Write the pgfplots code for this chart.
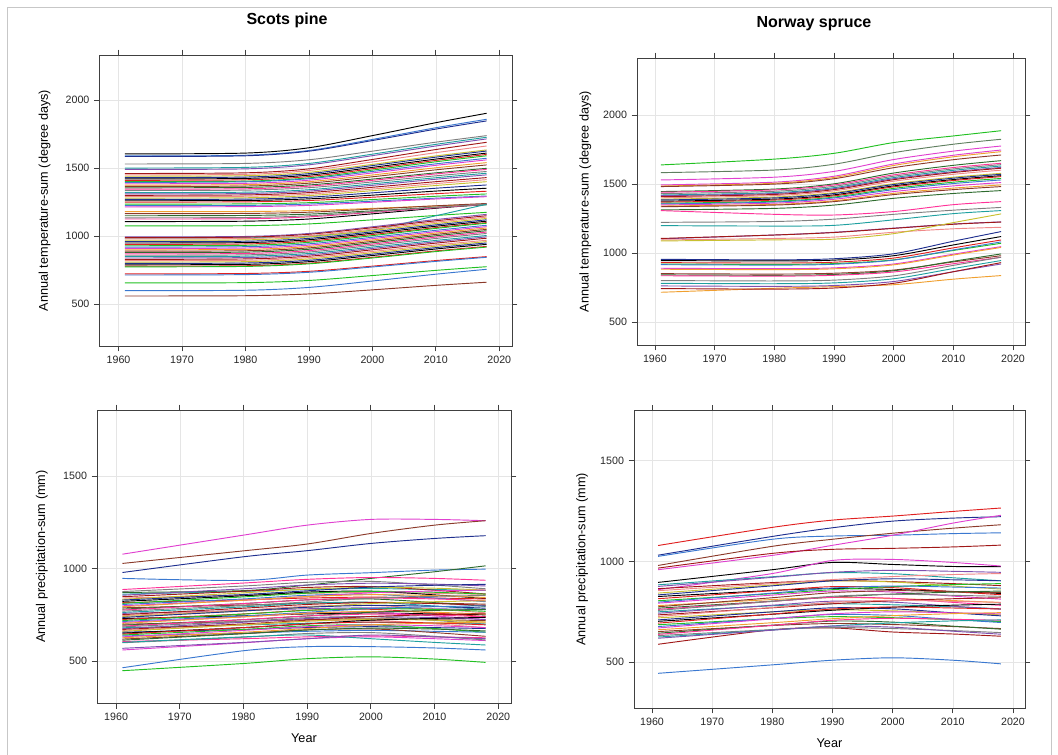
\documentclass[border=0pt]{standalone}
\usepackage{fontspec}
\setmainfont{Liberation Sans}
\usepackage{pgfplots}
\usepackage{pgfplotstable}
\pgfplotsset{compat=1.18}

\definecolor{c0}{HTML}{000000}
\definecolor{c1}{HTML}{E02020}
\definecolor{c2}{HTML}{22C022}
\definecolor{c3}{HTML}{3A78D0}
\definecolor{c4}{HTML}{E040D0}
\definecolor{c5}{HTML}{F0A030}
\definecolor{c6}{HTML}{8B3A2A}
\definecolor{c7}{HTML}{2E6B2E}
\definecolor{c8}{HTML}{FF3399}
\definecolor{c9}{HTML}{7F7F7F}
\definecolor{c10}{HTML}{1FA0A0}
\definecolor{c11}{HTML}{8050B0}
\definecolor{c12}{HTML}{A01818}
\definecolor{c13}{HTML}{F08888}
\definecolor{c14}{HTML}{C8C030}
\definecolor{c15}{HTML}{1F2F8F}
\definecolor{cOl}{HTML}{5F7F5F}

\pgfplotsset{panel/.style={
  scale only axis, xmin=1957, xmax=2022,
  xtick={1960,1970,...,2020},
  tick pos=both, tick align=outside, major tick length=4pt,
  grid=major, grid style={line width=0.4pt, draw=black!10},
  axis line style={line width=0.6pt, draw=black!75},
  tick style={line width=0.6pt, draw=black!75},
  /pgf/number format/assume math mode=true,
  /pgf/number format/1000 sep={},
  ticklabel style={font=\fontsize{8}{9}\selectfont, text=black!85},
  label style={font=\fontsize{9.5}{11}\selectfont},
  ylabel style={at={(axis description cs:-0.133,0.5)}, anchor=center},
  no markers,
  every axis plot/.append style={smooth, line width=0.7pt},
  cycle list={{c0},{c1},{c2},{c3},{c4},{c5},{c6},{c7},{c8},{c9},{c10},{c11},{c12},{c13},{c14},{c15}},
}}

% ---------- Scots pine, temperature sum ----------
\pgfplotstableread[header=has colnames]{
1961 1980 1990 2000 2010 2018
1604 1610 1649 1738 1833 1902
1589 1594 1629 1710 1796 1858
1585 1590 1624 1702 1786 1846
657 659 675 711 749 776
600 603 624 671 721 757
561 563 576 606 639 662
723 726 742 780 821 850
1075 1077 1090 1120 1152 1175
1107 1110 1126 1164 1205 1234
1530 1534 1561 1624 1690 1738
1500 1505 1534 1602 1674 1726
1490 1494 1524 1591 1662 1714
1460 1465 1494 1563 1636 1689
1450 1454 1482 1545 1613 1662
1440 1444 1469 1527 1589 1633
1430 1434 1459 1518 1580 1625
1420 1424 1448 1505 1566 1610
1410 1414 1438 1495 1556 1600
1400 1404 1428 1485 1546 1590
1395 1399 1422 1475 1531 1572
1385 1388 1411 1464 1520 1560
1375 1378 1400 1449 1502 1540
1365 1368 1389 1436 1487 1523
1355 1358 1376 1419 1465 1498
1345 1348 1367 1410 1457 1490
1335 1338 1356 1398 1443 1475
1320 1323 1341 1384 1429 1462
1310 1313 1331 1373 1418 1450
1300 1303 1320 1359 1400 1430
1290 1293 1309 1346 1386 1415
1280 1282 1298 1334 1372 1400
1270 1272 1286 1318 1352 1376
1260 1262 1274 1301 1331 1352
1250 1252 1262 1286 1312 1330
1235 1237 1246 1269 1293 1310
1225 1226 1236 1257 1279 1295
1215 1217 1226 1249 1273 1290
1180 1181 1188 1204 1222 1234
1165 1167 1176 1199 1223 1240
1150 1152 1162 1186 1212 1230
1126 1128 1142 1175 1209 1234
1135 1137 1150 1180 1212 1235
985 988 1000 1045 1150 1234
995 998 1020 1069 1122 1160
990 993 1014 1062 1113 1150
980 983 1004 1052 1103 1140
970 973 994 1042 1093 1130
960 963 984 1032 1083 1120
950 953 974 1022 1073 1110
940 943 964 1012 1063 1100
930 933 955 1004 1057 1095
920 923 944 992 1043 1080
910 913 934 982 1033 1070
900 903 924 972 1023 1060
890 893 914 962 1013 1050
880 883 904 952 1003 1040
870 873 894 942 993 1030
860 863 884 932 983 1020
850 853 873 920 969 1005
840 843 863 910 959 995
830 833 853 900 949 985
820 823 843 888 936 970
810 813 833 878 926 960
800 803 823 868 916 950
790 793 813 858 906 940
780 783 802 845 892 925
775 778 797 840 887 920
715 718 735 774 815 845
}\TLraw
\pgfplotstabletranspose\TL{\TLraw}
\pgfplotstablegetcolsof{\TL}\pgfmathtruncatemacro\nTL{\pgfplotsretval-1}

% ---------- Norway spruce, temperature sum ----------
\pgfplotstableread[header=has colnames]{
1961 1980 1990 2000 2010 2018
1638 1680 1722 1800 1848 1886
1582 1601 1643 1727 1788 1824
1529 1549 1591 1677 1738 1775
715 744 756 770 810 836
1493 1513 1556 1645 1708 1746
1485 1505 1547 1634 1697 1734
1481 1499 1538 1618 1676 1710
1445 1463 1501 1579 1635 1669
1440 1457 1493 1566 1619 1650
1430 1447 1483 1556 1609 1640
1420 1437 1473 1546 1599 1630
1415 1431 1466 1538 1589 1620
1408 1424 1459 1531 1583 1614
1400 1416 1450 1520 1570 1600
1390 1405 1437 1502 1549 1577
1384 1399 1431 1496 1542 1570
1375 1390 1421 1486 1532 1560
1368 1383 1414 1479 1525 1553
1360 1374 1405 1468 1513 1540
1355 1369 1399 1459 1503 1529
1348 1361 1389 1445 1486 1510
1340 1352 1378 1432 1470 1493
1335 1347 1372 1423 1459 1481
1312 1323 1347 1396 1431 1452
1307 1280 1275 1300 1350 1372
1222 1228 1245 1280 1310 1330
1198 1195 1200 1240 1285 1307
1102 1130 1150 1180 1210 1225
1105 1130 1148 1178 1208 1224
1094 1105 1115 1150 1175 1186
1087 1095 1100 1140 1220 1283
954 950 958 994 1085 1155
945 942 948 980 1058 1119
930 927 933 963 1037 1094
920 917 923 950 1018 1070
915 912 918 948 1022 1080
889 886 892 920 991 1046
882 879 885 914 985 1040
850 847 853 876 935 980
841 838 844 871 940 993
835 832 838 862 922 969
800 797 803 834 910 969
780 777 783 813 887 945
761 758 764 793 864 920
742 738 746 780 864 930
}\TRraw
\pgfplotstabletranspose\TR{\TRraw}
\pgfplotstablegetcolsof{\TR}\pgfmathtruncatemacro\nTR{\pgfplotsretval-1}

% ---------- Scots pine, precipitation sum ----------
\pgfplotstableread[header=has colnames]{
1961 1980 1990 2000 2010 2018
1077 1180 1234 1265 1265 1258
1027 1095 1132 1189 1234 1258
978 1063 1096 1135 1162 1177
946 935 964 977 991 996
870 880 910 946 982 1014
463 555 577 577 570 559
447 486 512 522 510 492
559 598 620 630 620 610
886 921 941 951 946 936
875 905 925 930 910 890
861 876 886 891 886 881
855 890 910 920 915 905
847 877 897 902 882 862
840 855 865 870 865 860
833 868 888 898 893 883
829 859 879 899 909 914
822 852 872 877 857 837
815 830 840 845 840 835
811 846 866 876 871 861
805 835 855 860 840 820
798 828 848 868 878 883
793 828 848 858 853 843
787 802 812 817 812 807
780 810 830 835 815 795
775 810 830 840 835 825
769 799 819 839 849 854
762 792 812 817 797 777
757 772 782 787 782 777
750 785 805 815 810 800
745 775 795 800 780 760
740 770 790 810 820 825
735 770 790 800 795 785
729 744 754 759 754 749
724 754 774 779 759 739
718 753 773 783 778 768
713 743 763 783 793 798
708 738 758 763 743 723
703 738 758 768 763 753
698 713 723 728 723 718
693 723 743 763 773 778
688 723 743 753 748 738
684 714 734 739 719 699
679 694 704 709 704 699
674 709 729 739 734 724
670 700 720 740 750 755
665 695 715 720 700 680
660 695 715 725 720 710
655 670 680 685 680 675
650 680 700 720 730 735
645 680 700 710 705 695
640 670 690 695 675 655
635 650 660 665 660 655
630 665 685 695 690 680
625 655 675 695 705 710
618 648 668 673 653 633
612 647 667 677 672 662
605 620 630 635 630 625
598 628 648 653 633 613
600 630 640 620 600 586
568 600 620 640 630 620
}\BLraw
\pgfplotstabletranspose\BL{\BLraw}
\pgfplotstablegetcolsof{\BL}\pgfmathtruncatemacro\nBL{\pgfplotsretval-1}

% ---------- Norway spruce, precipitation sum ----------
\pgfplotstableread[header=has colnames]{
1961 1980 1990 2000 2010 2018
1079 1169 1205 1225 1248 1265
1031 1124 1167 1200 1215 1222
1025 1110 1126 1130 1138 1142
980 1075 1110 1140 1165 1182
959 1030 1080 1130 1190 1229
967 1040 1060 1065 1072 1081
896 959 995 985 975 974
860 940 1005 1010 995 977
445 487 510 522 510 492
589 661 670 650 640 629
884 924 944 939 919 904
876 921 946 956 951 946
865 895 905 900 890 880
855 890 910 925 935 940
843 883 903 898 878 863
834 879 904 914 909 904
826 856 866 861 851 841
815 855 875 870 850 835
805 840 860 875 885 890
798 843 868 878 873 868
793 833 853 848 828 813
781 811 821 816 806 796
775 820 845 855 850 845
768 803 823 838 848 853
762 802 822 817 797 782
757 802 827 837 832 827
750 780 790 785 775 765
743 783 803 798 778 763
735 770 790 805 815 820
727 772 797 807 802 797
720 750 760 755 745 735
710 750 770 765 745 730
703 738 758 773 783 788
694 739 764 774 769 764
686 716 726 721 711 701
677 717 737 732 712 697
670 715 740 750 745 740
661 696 716 731 741 746
652 682 692 687 677 667
644 684 704 699 679 664
638 683 708 718 713 708
632 662 672 667 657 647
625 660 680 695 705 710
619 659 679 674 654 639
}\BRraw
\pgfplotstabletranspose\BR{\BRraw}
\pgfplotstablegetcolsof{\BR}\pgfmathtruncatemacro\nBR{\pgfplotsretval-1}

\begin{document}
\begin{tikzpicture}
\useasboundingbox (0,0) rectangle (793.5pt,566.25pt);
\draw[black!22, line width=0.6pt] (5.25pt,0pt) -- (5.25pt,561pt) -- (788.25pt,561pt) -- (788.25pt,0pt);

\node[font=\bfseries\fontsize{12}{14}\selectfont] at (215.25pt,551.25pt) {Scots pine};
\node[font=\bfseries\fontsize{12}{14}\selectfont] at (610.5pt,548.25pt) {Norway spruce};

% Top-left
\begin{axis}[panel, at={(74.6pt,306.75pt)}, anchor=south west,
  width=309.4pt, height=218.25pt, ymin=194, ymax=2330,
  ytick={500,1000,1500,2000},
  ylabel={Annual temperature-sum (degree days)}]
\addplot[c0] table[x index=0,y index=1]{\TL};
\addplot[c3] table[x index=0,y index=2]{\TL};
\addplot[c15] table[x index=0,y index=3]{\TL};
\addplot[c2] table[x index=0,y index=4]{\TL};
\addplot[c3] table[x index=0,y index=5]{\TL};
\addplot[c6] table[x index=0,y index=6]{\TL};
\addplot[c1] table[x index=0,y index=7]{\TL};
\addplot[c2] table[x index=0,y index=8]{\TL};
\addplot[c0] table[x index=0,y index=9]{\TL};
\pgfplotsinvokeforeach{10,...,\nTL}{\addplot table[x index=0,y index=#1]{\TL};}
\end{axis}

% Top-right
\begin{axis}[panel, at={(477.75pt,307.5pt)}, anchor=south west,
  width=291pt, height=215.25pt, ymin=333, ymax=2413,
  ytick={500,1000,1500,2000},
  ylabel={Annual temperature-sum (degree days)}]
\addplot[c2] table[x index=0,y index=1]{\TR};
\addplot[cOl] table[x index=0,y index=2]{\TR};
\addplot[c4] table[x index=0,y index=3]{\TR};
\addplot[c5] table[x index=0,y index=4]{\TR};
\pgfplotsinvokeforeach{5,...,\nTR}{\addplot table[x index=0,y index=#1]{\TR};}
\end{axis}

% Bottom-left
\begin{axis}[panel, at={(72.75pt,38.8pt)}, anchor=south west,
  width=310.5pt, height=220pt, ymin=271, ymax=1857,
  ytick={500,1000,1500},
  ylabel={Annual precipitation-sum (mm)},
  xlabel={Year}, xlabel style={at={(axis description cs:0.5,-0.119)}, anchor=center}]
\addplot[c4] table[x index=0,y index=1]{\BL};
\addplot[c6] table[x index=0,y index=2]{\BL};
\addplot[c15] table[x index=0,y index=3]{\BL};
\addplot[c3] table[x index=0,y index=4]{\BL};
\addplot[c7] table[x index=0,y index=5]{\BL};
\addplot[c3] table[x index=0,y index=6]{\BL};
\addplot[c2] table[x index=0,y index=7]{\BL};
\addplot[c4] table[x index=0,y index=8]{\BL};
\pgfplotsinvokeforeach{9,...,\nBL}{\addplot table[x index=0,y index=#1]{\BL};}
\end{axis}

% Bottom-right
\begin{axis}[panel, at={(475.5pt,35.25pt)}, anchor=south west,
  width=293.25pt, height=223pt, ymin=273, ymax=1748,
  ytick={500,1000,1500},
  ylabel={Annual precipitation-sum (mm)},
  xlabel={Year}, xlabel style={at={(axis description cs:0.5,-0.118)}, anchor=center}]
\addplot[c1] table[x index=0,y index=1]{\BR};
\addplot[c15] table[x index=0,y index=2]{\BR};
\addplot[c3] table[x index=0,y index=3]{\BR};
\addplot[c6] table[x index=0,y index=4]{\BR};
\addplot[c4] table[x index=0,y index=5]{\BR};
\addplot[c12] table[x index=0,y index=6]{\BR};
\addplot[c0] table[x index=0,y index=7]{\BR};
\addplot[c4] table[x index=0,y index=8]{\BR};
\addplot[c3] table[x index=0,y index=9]{\BR};
\addplot[c12] table[x index=0,y index=10]{\BR};
\pgfplotsinvokeforeach{11,...,\nBR}{\addplot table[x index=0,y index=#1]{\BR};}
\end{axis}
\end{tikzpicture}
\end{document}
